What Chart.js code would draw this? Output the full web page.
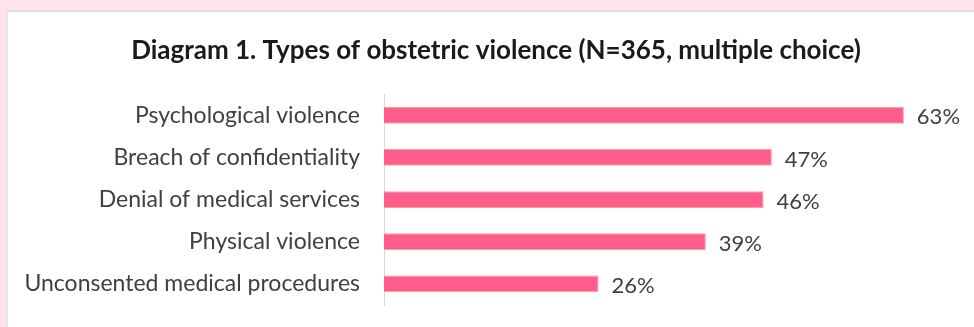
<!DOCTYPE html>
<html>
<head>
<meta charset="utf-8">
<script src="https://cdn.jsdelivr.net/npm/chart.js@4"></script>
<style>
  html, body { margin: 0; padding: 0; }
  body { width: 974px; height: 327px; background: #fde3ea; position: relative; overflow: hidden; }
  #panel { position: absolute; left: 6px; top: 10px; right: 0; bottom: 0; background: #ffffff;
           border-top: 2px solid #dcdcdc; border-left: 2px solid #e4e4e4; }
  #wrap { position: absolute; left: 0; top: 0; width: 974px; height: 327px; }
</style>
</head>
<body>
<div id="panel"></div>
<div id="wrap"><canvas id="c" width="974" height="327"></canvas></div>
<script>
const titleText = 'Diagram 1. Types of obstetric violence (N=365, multiple choice)';
const categories = [
  'Psychological violence',
  'Breach of confidentiality',
  'Denial of medical services',
  'Physical violence',
  'Unconsented medical procedures'
];
const values = [63, 47, 46, 39, 26];
const xMax = 71.5;

const FONT = 'Lato, "Open Sans", sans-serif';
const TEXT = '#404040';

const valueLabels = {
  id: 'valueLabels',
  afterDatasetsDraw(chart) {
    const ctx = chart.ctx;
    const meta = chart.getDatasetMeta(0);
    ctx.save();
    ctx.font = '22px ' + FONT;
    ctx.fillStyle = TEXT;
    ctx.textAlign = 'left';
    ctx.textBaseline = 'middle';
    meta.data.forEach((bar, i) => {
      ctx.fillText(values[i] + '%', bar.x + 13, bar.y + 2);
    });
    ctx.restore();
  }
};

new Chart(document.getElementById('c'), {
  type: 'bar',
  data: {
    labels: categories,
    datasets: [{
      data: values,
      backgroundColor: '#fd5c8c',
      borderColor: '#f5a08c',
      borderWidth: 1,
      barPercentage: 0.8,
      categoryPercentage: 0.5
    }]
  },
  options: {
    indexAxis: 'y',
    responsive: false,
    animation: false,
    layout: { padding: { left: 18, right: 0, top: 0, bottom: 22 } },
    plugins: {
      legend: { display: false },
      tooltip: { enabled: false },
      title: {
        display: true,
        text: titleText,
        color: '#1a1a1a',
        font: { family: FONT, size: 26, weight: 'bold' },
        padding: { top: 35, bottom: 28 }
      }
    },
    scales: {
      x: { display: false, min: 0, max: xMax },
      y: {
        grid: { display: false, drawTicks: false },
        border: { display: true, color: '#d9d9d9', width: 1 },
        ticks: { color: TEXT, font: { family: FONT, size: 23 }, padding: 24 },
        afterFit(scale) { scale.width = 366; scale.paddingTop = 0; scale.paddingBottom = 0; }
      }
    }
  },
  plugins: [valueLabels]
});
</script>
</body>
</html>
